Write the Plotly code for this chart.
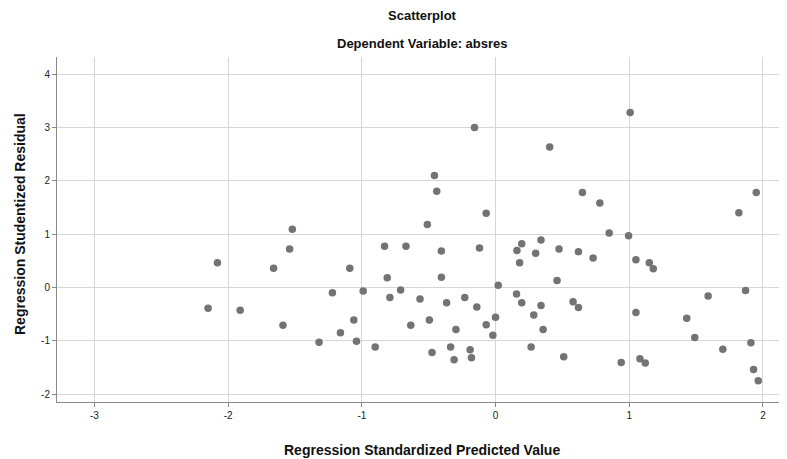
import plotly.graph_objects as go

# Regression Standardized Predicted Value
pred = [-1.52, -1.54, -2.08, -1.66, -1.09, -0.83, -0.81, -1.22, -0.99, -0.79,
        -0.71, -2.15, -1.91, -1.06, -1.59, -1.16, -1.32, -1.04, -0.90,
        -0.157, 0.405, -0.457, -0.44, 0.65, 0.78, -0.07, -0.51,
        -0.67, -0.405, -0.12, 0.16, 0.196, 0.34, 0.475, 0.62, 0.73, 0.30, 0.18,
        -0.405, 0.02, 0.46, -0.565, -0.366, -0.23, -0.14, 0.157, 0.196, 0.34,
        0.58, 0.62, 0.0, 0.286, -0.634, -0.495, -0.296, -0.07, 0.356, -0.02,
        -0.475, -0.336, -0.19, -0.31, -0.18, 0.266, 0.51,
        1.007, 1.95, 1.82, 0.85, 0.995,
        1.05, 1.15, 1.18, 1.59, 1.87, 1.05, 1.43, 1.49, 1.70, 1.91,
        0.94, 1.08, 1.12, 1.93, 1.965]
# Regression Studentized Residual
resid = [1.09, 0.72, 0.46, 0.36, 0.36, 0.77, 0.18, -0.10, -0.07, -0.19,
         -0.05, -0.39, -0.43, -0.61, -0.71, -0.85, -1.03, -1.01, -1.12,
         3.00, 2.63, 2.10, 1.80, 1.78, 1.58, 1.39, 1.18,
         0.77, 0.68, 0.74, 0.69, 0.82, 0.89, 0.72, 0.67, 0.55, 0.64, 0.46,
         0.19, 0.04, 0.13, -0.22, -0.29, -0.19, -0.37, -0.125, -0.29, -0.34,
         -0.27, -0.38, -0.56, -0.52, -0.71, -0.61, -0.79, -0.70, -0.79, -0.90,
         -1.22, -1.12, -1.17, -1.36, -1.32, -1.12, -1.30,
         3.28, 1.78, 1.40, 1.02, 0.97,
         0.52, 0.46, 0.35, -0.16, -0.06, -0.47, -0.58, -0.94, -1.16, -1.04,
         -1.41, -1.34, -1.42, -1.54, -1.75]

x_ticks = [-3, -2, -1, 0, 1, 2]
y_ticks = [-2, -1, 0, 1, 2, 3, 4]

FONT = "Liberation Sans, Arial, sans-serif"

# page body has an 8px margin, so the figure is offset by (8, 8)
L, T, PW, PH = 49, 49, 730, 345

fig = go.Figure(go.Scatter(
    x=pred, y=resid, mode="markers",
    marker=dict(size=7.5, color="#737373", line=dict(width=0)),
    hoverinfo="skip",
))

axis_common = dict(
    showgrid=True, gridcolor="#d6d6d6", gridwidth=1,
    zeroline=False, showline=True, linecolor="#8a8a8a", linewidth=1,
    ticks="outside", ticklen=4, tickcolor="#8a8a8a",
    tickfont=dict(family=FONT, size=10, color="#222222"),
)

fig.update_xaxes(range=[-3.28, 2.18], tickvals=x_ticks, ticktext=[str(v) for v in x_ticks],
                 **axis_common)
fig.update_yaxes(range=[-2.15, 4.32], tickvals=y_ticks, ticktext=[str(v) for v in y_ticks],
                 **axis_common)

def py(win_y):
    return (T + PH - (win_y - 8)) / PH

def px(win_x):
    return ((win_x - 8) - L) / PW

fig.update_layout(
    width=L + PW, height=T + PH + 57,
    margin=dict(l=L, r=0, t=T, b=57),
    plot_bgcolor="white", paper_bgcolor="white",
    showlegend=False,
    annotations=[
        dict(text="<b>Scatterplot</b>", x=0.5, y=py(15), xref="paper", yref="paper",
             showarrow=False, xanchor="center", yanchor="middle",
             font=dict(family=FONT, size=13, color="#111111")),
        dict(text="<b>Dependent Variable: absres</b>", x=0.5, y=py(43),
             xref="paper", yref="paper", showarrow=False, xanchor="center", yanchor="middle",
             font=dict(family=FONT, size=13, color="#111111")),
        dict(text="<b>Regression Standardized Predicted Value</b>", x=0.5, y=py(450),
             xref="paper", yref="paper", showarrow=False, xanchor="center", yanchor="middle",
             font=dict(family=FONT, size=14, color="#111111")),
        dict(text="<b>Regression Studentized Residual</b>", x=px(20), y=py(224),
             xref="paper", yref="paper", showarrow=False, xanchor="center", yanchor="middle",
             textangle=-90, font=dict(family=FONT, size=14, color="#111111")),
    ],
)

fig.write_html("out.html")
